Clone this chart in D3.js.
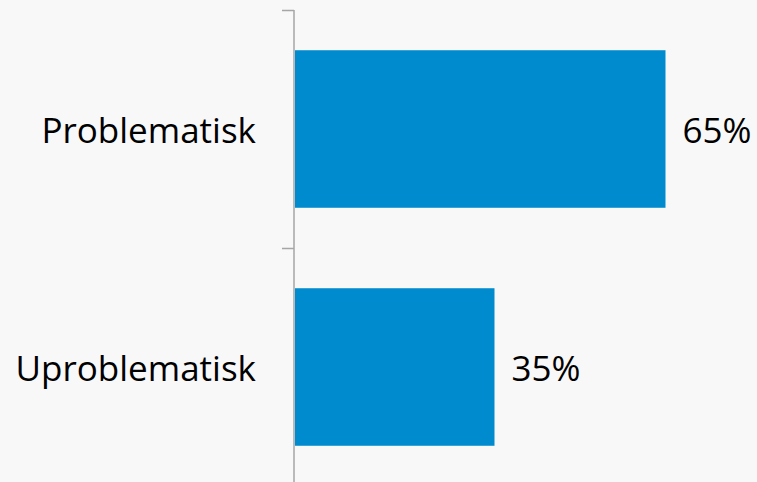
<!DOCTYPE html>
<html>
<head>
<meta charset="utf-8">
<script src="https://cdn.jsdelivr.net/npm/d3@7"></script>
<style>
  body { margin: 0; background: #f8f8f8; }
  svg { display: block; font-family: "Open Sans", "Noto Sans", sans-serif; }
</style>
</head>
<body>
<div class="chart"></div>
<script>
const categories = ['Problematisk', 'Uproblematisk'];
const values = [0.65, 0.35];

const margin = ({top: 10, right: 0, bottom: 0, left: 294});
const width = 757 - margin.left - margin.right,
    height = 482 - margin.top - margin.bottom;

const svg = d3.select('.chart').append('svg')
    .attr('width', width + margin.left + margin.right)
    .attr('height', height + margin.top + margin.bottom)
    .append('g')
    .attr('transform', `translate(${margin.left},${margin.top})`);

const yScale = d3.scaleBand()
    .domain(categories)
    .range([0, 476])
    .paddingInner(0.338)
    .paddingOuter(0.169);
const xScale = d3.scaleLinear()
    .domain([0, 1])
    .range([0, 570]);

svg.selectAll('rect')
    .data(values)
    .enter()
    .append('rect')
    .attr('x', 1)
    .attr('y', (d, i) => yScale(categories[i]))
    .attr('width', d => xScale(d))
    .attr('height', yScale.bandwidth())
    .attr('fill', '#008bcf');

// axis line with category boundary ticks
svg.append('line')
    .attr('x1', 0).attr('x2', 0)
    .attr('y1', 0).attr('y2', height)
    .attr('stroke', '#a6a6a6')
    .attr('stroke-width', 1.5);
svg.selectAll('.tick')
    .data(categories)
    .enter()
    .append('line')
    .attr('class', 'tick')
    .attr('x1', -12).attr('x2', 0)
    .attr('y1', d => yScale(d) - yScale.step() * yScale.paddingInner() / 2 + 0.5)
    .attr('y2', d => yScale(d) - yScale.step() * yScale.paddingInner() / 2 + 0.5)
    .attr('stroke', '#a6a6a6')
    .attr('stroke-width', 1.5);

svg.selectAll('.cat')
    .data(categories)
    .enter()
    .append('text')
    .attr('class', 'cat')
    .text(d => d)
    .attr('x', -38)
    .attr('y', d => yScale(d) + yScale.bandwidth() / 2)
    .attr('text-anchor', 'end')
    .attr('dominant-baseline', 'central')
    .attr('font-size', 35)
    .attr('fill', '#000');

svg.selectAll('.val')
    .data(values)
    .enter()
    .append('text')
    .attr('class', 'val')
    .text(d => Math.round(d * 100) + '%')
    .attr('x', d => xScale(d) + 18)
    .attr('y', (d, i) => yScale(categories[i]) + yScale.bandwidth() / 2)
    .attr('dominant-baseline', 'central')
    .attr('font-size', 35)
    .attr('fill', '#000');
</script>
</body>
</html>
